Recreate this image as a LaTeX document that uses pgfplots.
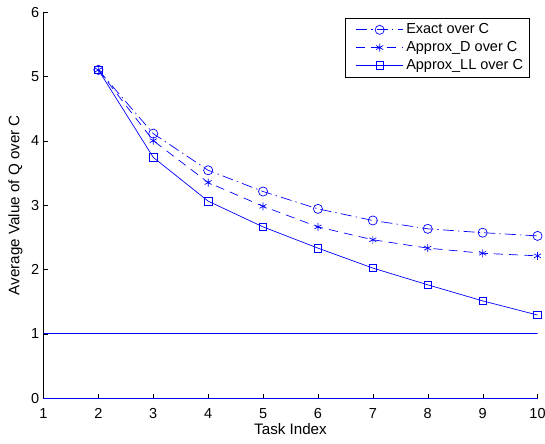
\documentclass[border=0pt]{standalone}
\usepackage{fontspec}
\setmainfont{Liberation Sans}
\usepackage{pgfplots}
\pgfplotsset{compat=1.18}
\definecolor{mblue}{RGB}{0,0,255}
\begin{document}
\begin{tikzpicture}
\useasboundingbox (-31.5pt,-33.3pt) rectangle (363.4pt,288.4pt);
\begin{axis}[
  at={(0pt,0pt)}, anchor=south west,
  scale only axis,
  width=358pt, height=279.7pt,
  xmin=1, xmax=10, ymin=0, ymax=6,
  xtick={1,...,10}, ytick={0,...,6},
  axis x line*=bottom, axis y line*=left,
  axis line style={black, -},
  tick align=inside,
  major tick length=3pt,
  tick style={black},
  /pgf/number format/assume math mode=true,
  ticklabel style={font=\fontsize{10.5}{12.5}\selectfont},
  xticklabel style={anchor=north, inner sep=0pt, yshift=-7.2pt},
  yticklabel style={anchor=east, inner sep=0pt, xshift=-2.9pt},
  label style={font=\fontsize{11}{13}\selectfont},
  xlabel={Task Index},
  ylabel={Average Value of Q over C},
  xlabel style={at={(axis description cs:0.5,-0.0647)}, anchor=north, inner sep=0pt},
  ylabel style={at={(axis description cs:-0.0416,0.5)}, anchor=south, inner sep=0pt},
  legend style={at={(rel axis cs:1,1)}, anchor=north east, xshift=-5.8pt, yshift=-4.3pt,
    draw=black, font=\fontsize{10.5}{13.6}\selectfont, inner xsep=2.5pt, inner ysep=2pt, row sep=0pt},
  legend cell align=left,
  legend image code/.code={
    \path (0pt,0pt);
    \draw[#1, mark repeat=2, mark phase=2] plot coordinates {(5pt,0pt) (22pt,0pt) (39pt,0pt)};
  },
]
\addplot[mblue, line width=0.5pt, dash pattern=on 8pt off 3pt on 1pt off 3pt, mark=o, mark size=3.3pt, mark options={solid}] coordinates {
(2,5.1) (3,4.11) (4,3.54) (5,3.21) (6,2.94) (7,2.76) (8,2.63) (9,2.57) (10,2.52)};
\addlegendentry{Exact over C}
\addplot[mblue, line width=0.5pt, dash pattern=on 6.5pt off 4.5pt, mark=asterisk, mark size=2.9pt, mark options={solid}] coordinates {
(2,5.1) (3,4.0) (4,3.35) (5,2.98) (6,2.66) (7,2.46) (8,2.33) (9,2.25) (10,2.21)};
\addlegendentry{Approx\_D over C}
\addplot[mblue, line width=0.5pt, mark=square, mark size=2.7pt] coordinates {
(2,5.1) (3,3.74) (4,3.06) (5,2.66) (6,2.33) (7,2.02) (8,1.76) (9,1.51) (10,1.29)};
\addlegendentry{Approx\_LL over C}
\addplot[mblue, line width=0.5pt, forget plot] coordinates {(1,1) (10,1)};
\addplot[mblue, line width=0.5pt, forget plot] coordinates {(1,0) (10,0)};
\end{axis}
\end{tikzpicture}
\end{document}
